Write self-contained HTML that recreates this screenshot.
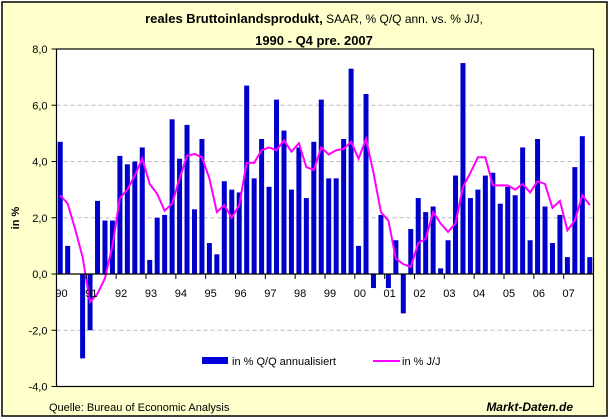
<!DOCTYPE html>
<html><head><meta charset="utf-8"><style>
body{margin:0;width:610px;height:419px;background:#fff;overflow:hidden}
svg{display:block;font-family:"Liberation Sans",sans-serif}
</style></head><body>
<svg id="c" width="610" height="419">
<rect x="2" y="2" width="605" height="414" fill="#FFFFCC" stroke="#000" stroke-width="1.5"/>
<text x="314" y="23" text-anchor="middle" font-size="13"><tspan font-weight="bold">reales Bruttoinlandsprodukt,</tspan><tspan font-size="12"> SAAR, % Q/Q ann. vs. % J/J,</tspan></text>
<text x="314" y="45" text-anchor="middle" font-size="13" font-weight="bold">1990 - Q4 pre. 2007</text>
<rect x="56.5" y="49" width="537" height="337.5" fill="#fff"/>
<g id="grid"></g><g id="bars"></g><g id="line"></g><g id="axes"></g>
<rect x="56.5" y="49" width="537" height="337.5" fill="none" stroke="#000" stroke-width="1.2"/>
<text transform="translate(19,218) rotate(-90)" text-anchor="middle" font-size="11" font-weight="bold">in %</text>
<rect x="202" y="357" width="26" height="7" fill="#0000DD"/>
<text x="232" y="365" font-size="11">in % Q/Q annualisiert</text>
<line x1="373" y1="361" x2="400" y2="361" stroke="#FF00FF" stroke-width="2"/>
<text x="402" y="365" font-size="11">in % J/J</text>
<text x="49" y="411" font-size="11">Quelle: Bureau of Economic Analysis</text>
<text x="573" y="411" text-anchor="end" font-size="12" font-weight="bold" font-style="italic">Markt-Daten.de</text>
</svg>
<script>
const years=["90","91","92","93","94","95","96","97","98","99","00","01","02","03","04","05","06","07"];
const qqValues=[4.7,1.0,0,-3.0,-2.0,2.6,1.9,1.9,4.2,3.9,4.0,4.5,0.5,2.0,2.1,5.5,4.1,5.3,2.3,4.8,1.1,0.7,3.3,3.0,2.9,6.7,3.4,4.8,3.1,6.2,5.1,3.0,4.5,2.7,4.7,6.2,3.4,3.4,4.8,7.3,1.0,6.4,-0.5,2.1,-0.5,1.2,-1.4,1.6,2.7,2.2,2.4,0.2,1.2,3.5,7.5,2.7,3.0,3.5,3.6,2.5,3.1,2.8,4.5,1.2,4.8,2.4,1.1,2.1,0.6,3.8,4.9,0.6];
const yyValues=[2.8,2.5,1.6,0.6,-1.0,-0.7,-0.15,1.0,2.7,3.0,3.5,4.1,3.2,2.85,2.25,2.5,3.4,4.2,4.27,4.15,3.4,2.2,2.45,2.0,2.45,3.95,3.95,4.4,4.5,4.4,4.75,4.35,4.65,3.8,3.7,4.5,4.25,4.4,4.45,4.7,4.1,4.8,3.6,2.2,1.9,0.55,0.35,0.25,1.1,1.25,2.2,1.8,1.5,1.8,3.1,3.6,4.15,4.15,3.15,3.15,3.15,3.0,3.2,2.9,3.3,3.2,2.35,2.6,1.55,1.9,2.8,2.45];
const yTicks=[8,6,4,2,0,-2,-4];
const L=56.5,R=593.5,T=49,B=386.5,ymin=-4,ymax=8;
const n=qqValues.length,step=(R-L)/n;
const y=v=>B-(v-ymin)/(ymax-ymin)*(B-T);
const x=i=>L+step*(i+0.5);
const NS="http://www.w3.org/2000/svg";
function mk(tag,parent,attrs){const e=document.createElementNS(NS,tag);for(const k in attrs)e.setAttribute(k,attrs[k]);document.getElementById(parent).appendChild(e);return e;}
yTicks.forEach(t=>{
  if(t!==0&&t!==ymax&&t!==ymin){const g=mk('line','grid',{x1:L,x2:R,y1:y(t),y2:y(t),stroke:'#bbb','stroke-dasharray':'4,3'});
  
  }
  const tk=mk('line','axes',{x1:L-5,x2:L,y1:y(t),y2:y(t),stroke:'#000'});
  
  
  const tx=mk('text','axes',{x:L-9,y:y(t)+4,'text-anchor':'end','font-size':'11'});
  tx.textContent=t.toFixed(1).replace('.',',');
  
  
});
qqValues.forEach((v,i)=>{
  const b=mk('rect','bars',{x:x(i)-2.5,width:5,y:Math.min(y(v),y(0)),height:Math.abs(y(v)-y(0)),fill:'#0000CC'});
  
  
});
const p=mk('polyline','line',{points:yyValues.map((v,i)=>x(i)+','+y(v)).join(' '),fill:'none',stroke:'#FF00FF','stroke-width':'2'});


const z=mk('line','axes',{x1:L,x2:R,y1:y(0),y2:y(0),stroke:'#000','stroke-width':'1.2'});


years.forEach((yr,j)=>{
  const xx=L+step*4*j;
  const tk=mk('line','axes',{x1:xx,x2:xx,y1:y(0),y2:y(0)+5,stroke:'#000'});
  
  
  const tx=mk('text','axes',{x:xx+5,y:y(0)+23,'text-anchor':'middle','font-size':'11'});
  tx.textContent=yr;
  
  
});
</script>
</body></html>
